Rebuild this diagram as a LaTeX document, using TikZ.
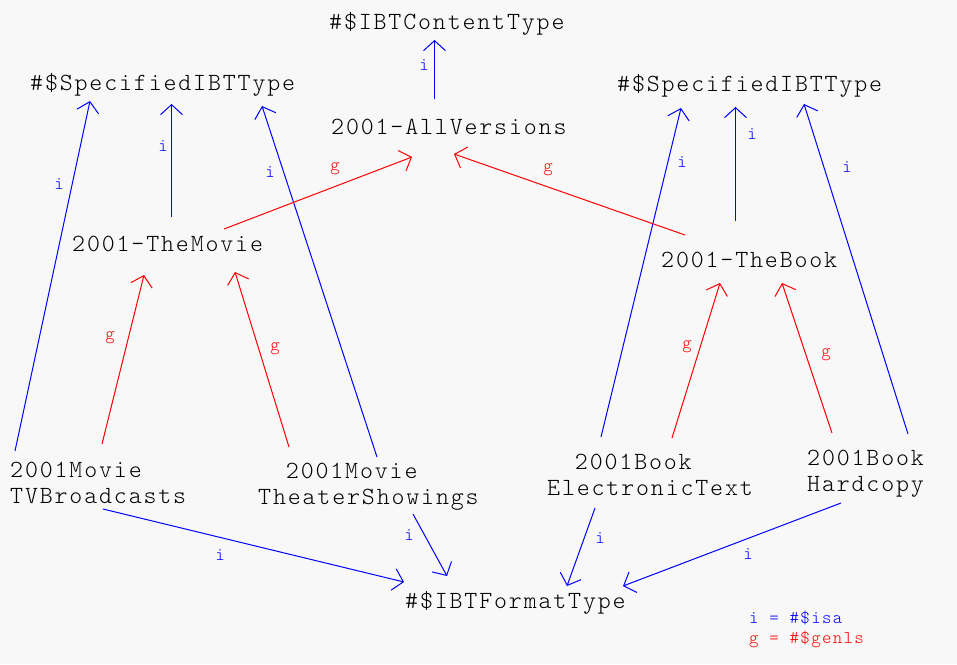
\documentclass[tikz,border=0pt]{standalone}
\usepackage{fontspec}
\usetikzlibrary{arrows.meta}
\definecolor{bgcol}{HTML}{F8F8F8}
\definecolor{isacol}{RGB}{0,0,255}
\definecolor{gencol}{RGB}{255,0,0}
\newfontfamily\courlike{lmmonolt10-regular.otf}[LetterSpace=7.5]
\newcommand{\bigtt}{\fontsize{24.7}{26}\selectfont\courlike}
\newcommand{\smalltt}{\fontsize{18}{20}\selectfont\courlike}
\begin{document}
\begin{tikzpicture}[x=1pt,y=-1pt,
  concept/.style={inner sep=0pt, anchor=base west, font=\bigtt, text=black},
  isaedge/.style={draw=isacol, line width=1pt, -{Straight Barb[length=10pt,width=22pt]}},
  genedge/.style={draw=gencol, line width=1pt, -{Straight Barb[length=10pt,width=22pt]}},
  ilabel/.style={inner sep=0pt, anchor=base, font=\smalltt, text=isacol},
  glabel/.style={inner sep=0pt, anchor=base, font=\smalltt, text=gencol},
  legend/.style={inner sep=0pt, anchor=base west, font=\smalltt}]
\useasboundingbox (0,0) rectangle (957,664);
\fill[bgcol] (0,0) rectangle (957,664);

% concepts
\node[concept] (ct) at (329,29) {\#\$IBTContentType};
\node[concept] (av) at (331,134) {2001-AllVersions};
\node[concept] (sl) at (30,90) {\#\$SpecifiedIBTType};
\node[concept] (sr) at (617,91) {\#\$SpecifiedIBTType};
\node[concept] (tm) at (72,251) {2001-TheMovie};
\node[concept] (tb) at (661,267) {2001-TheBook};
\node[concept] (tv) at (10,477) {\begin{tabular}[t]{@{}l@{}}2001Movie\\TVBroadcasts\end{tabular}};
\node[concept] (ts) at (258,478) {\begin{tabular}[t]{@{}l@{}}\phantom{00}2001Movie\\TheaterShowings\end{tabular}};
\node[concept] (et) at (547,469) {\begin{tabular}[t]{@{}l@{}}\phantom{00}2001Book\\ElectronicText\end{tabular}};
\node[concept] (hc) at (807,465) {\begin{tabular}[t]{@{}l@{}}2001Book\\Hardcopy\end{tabular}};
\node[concept] (ft) at (405,608) {\#\$IBTFormatType};

% isa edges
\draw[isaedge] ([shift={(5,-26)}]tv.base west) -- ([shift={(60,11)}]sl.base west);
\draw[isaedge] ([shift={(99.5,-34)}]tm.base west) -- ([shift={(141.5,14)}]sl.base west);
\draw[isaedge] ([shift={(119,-21)}]ts.base west) -- ([shift={(232,16)}]sl.base west);
\draw[isaedge] ([shift={(103.5,-35)}]av.base west) -- ([shift={(105.5,11)}]ct.base west);
\draw[isaedge] ([shift={(54,-32)}]et.base west) -- ([shift={(64,17)}]sr.base west);
\draw[isaedge] ([shift={(74.5,-46)}]tb.base west) -- ([shift={(118.5,16)}]sr.base west);
\draw[isaedge] ([shift={(101,-31)}]hc.base west) -- ([shift={(187,13)}]sr.base west);
\draw[isaedge] ([shift={(93,32)}]tv.base west) -- ([shift={(-1,-26)}]ft.base west);
\draw[isaedge] ([shift={(155,36)}]ts.base west) -- ([shift={(42,-32)}]ft.base west);
\draw[isaedge] ([shift={(48,39)}]et.base west) -- ([shift={(162,-22)}]ft.base west);
\draw[isaedge] ([shift={(34,38)}]hc.base west) -- ([shift={(218,-22)}]ft.base west);

% genls edges
\draw[genedge] ([shift={(152,-22)}]tm.base west) -- ([shift={(81,23)}]av.base west);
\draw[genedge] ([shift={(24,-32)}]tb.base west) -- ([shift={(123,20)}]av.base west);
\draw[genedge] ([shift={(92,-33)}]tv.base west) -- ([shift={(72,24)}]tm.base west);
\draw[genedge] ([shift={(31,-31)}]ts.base west) -- ([shift={(163,21)}]tm.base west);
\draw[genedge] ([shift={(125,-31)}]et.base west) -- ([shift={(59,16)}]tb.base west);
\draw[genedge] ([shift={(25,-32)}]hc.base west) -- ([shift={(121,16)}]tb.base west);

% edge labels
\node[ilabel] (i1) at (59,189) {i};
\node[ilabel] (i2) at (163,151) {i};
\node[ilabel] (i3) at (270,177) {i};
\node[ilabel] (i4) at (424,70) {i};
\node[ilabel] (i5) at (682,167) {i};
\node[ilabel] (i6) at (752,139) {i};
\node[ilabel] (i7) at (847,172) {i};
\node[ilabel] (i8) at (220,560) {i};
\node[ilabel] (i9) at (409,540) {i};
\node[ilabel] (i10) at (600,543) {i};
\node[ilabel] (i11) at (748,559) {i};
\node[glabel] (g1) at (335,170) {g};
\node[glabel] (g2) at (548,171) {g};
\node[glabel] (g3) at (110,339) {g};
\node[glabel] (g4) at (275,350) {g};
\node[glabel] (g5) at (687,348) {g};
\node[glabel] (g6) at (826,356) {g};

% legend
\node[legend, text=isacol] (leg1) at (749,623) {i = \#\$isa};
\node[legend, text=gencol] (leg2) at (749,643) {g = \#\$genls};
\end{tikzpicture}
\end{document}
